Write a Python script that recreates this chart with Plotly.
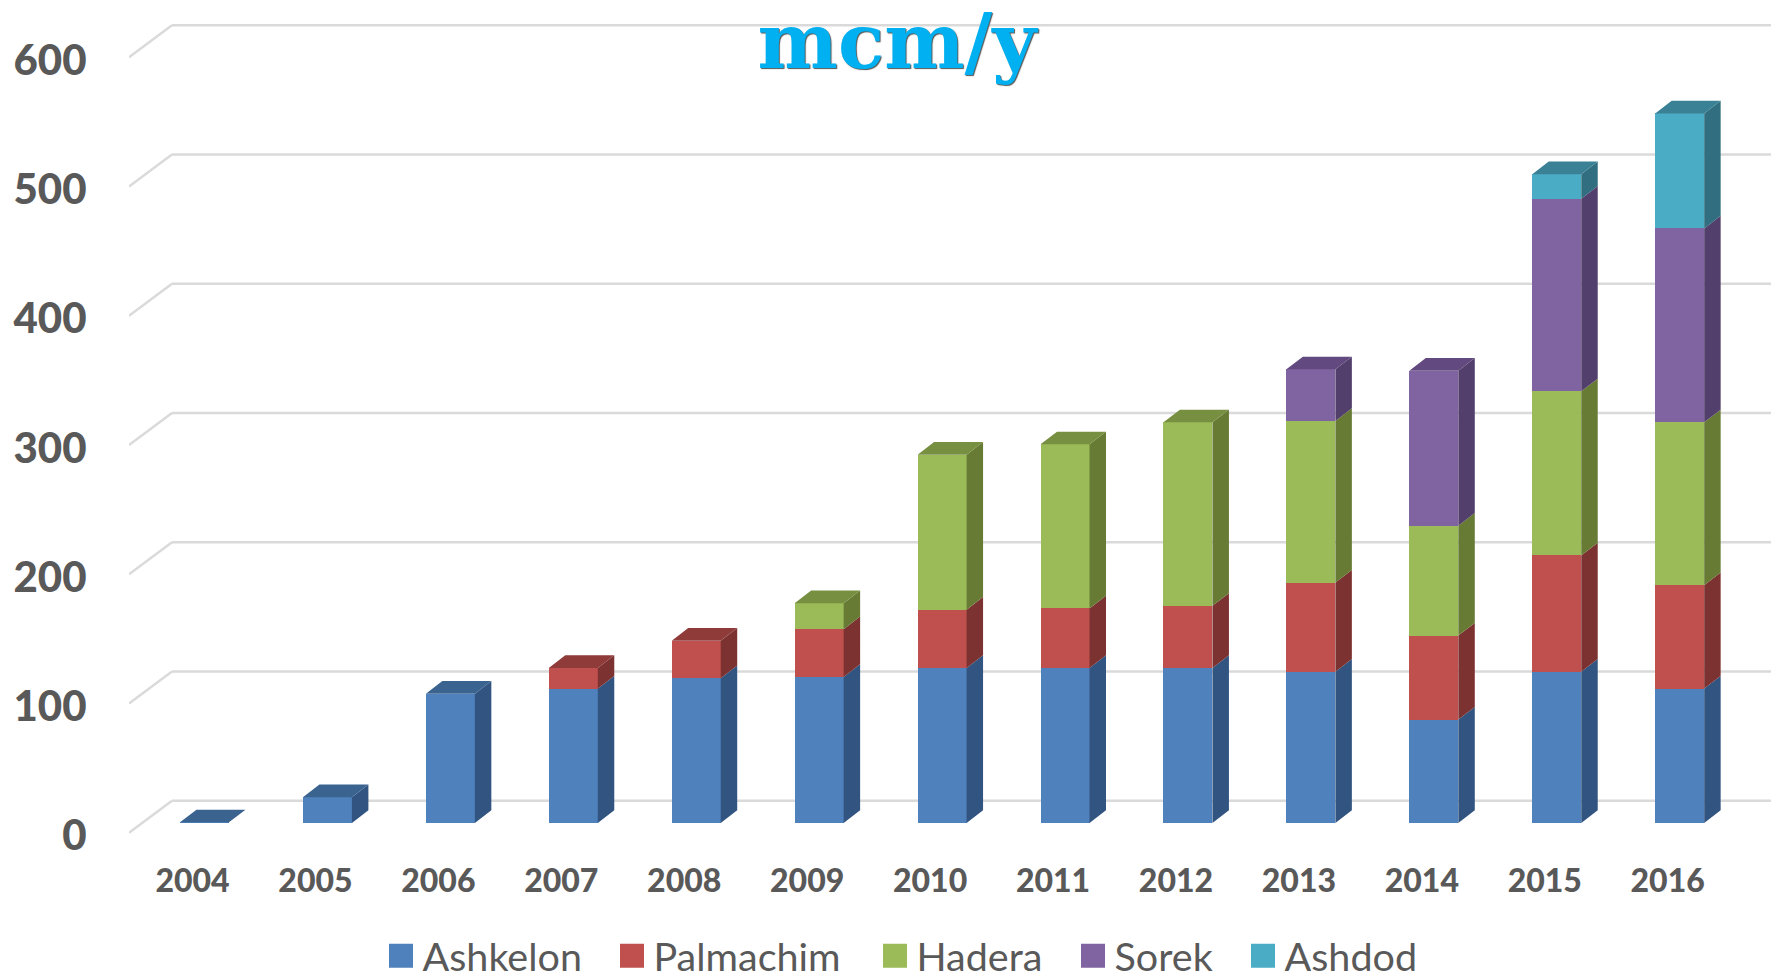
import plotly.graph_objects as go

years = [2004, 2005, 2006, 2007, 2008, 2009, 2010, 2011, 2012, 2013, 2014, 2015, 2016]
ashkelon = [0.5, 20, 100, 104, 112, 113, 120, 120, 120, 117, 80, 117, 104]
palmachim = [0, 0, 0, 16, 29, 37, 45, 46, 48, 69, 65, 90, 80]
hadera = [0, 0, 0, 0, 0, 20, 120, 127, 142, 125, 85, 127, 126]
sorek = [0, 0, 0, 0, 0, 0, 0, 0, 0, 40, 120, 149, 150]
ashdod = [0, 0, 0, 0, 0, 0, 0, 0, 0, 0, 0, 19, 89]
series_names = ["Ashkelon", "Palmachim", "Hadera", "Sorek", "Ashdod"]
series_values = [ashkelon, palmachim, hadera, sorek, ashdod]
front_colors = ["#4F81BD", "#C0504D", "#9BBB59", "#8064A2", "#4BACC6"]
side_colors = ["#325480", "#7C3230", "#677B35", "#533F6B", "#316F80"]
top_colors = ["#3B6390", "#8F3B3A", "#778F40", "#624A80", "#3B8195"]
y_ticks = [0, 100, 200, 300, 400, 500, 600]
legend_swatch_px = [389, 620, 883, 1081, 1251]

# pseudo-3D geometry, in axis units
BAR_SHIFT = 0.0976   # bar centre relative to its year label
BAR_W = 0.3986
DEPTH_X = 0.134
DEPTH_Y = 9.8
WALL_BACK = 17.2     # back wall height offset
WALL_FRONT = -7.6    # front edge height offset
GRID_LEFT_FRONT = 2003.4834
GRID_LEFT_BACK = 2003.833
GRID_RIGHT = 2016.84

fig = go.Figure()

shapes = []
for v in y_ticks:
    for x0, y0, x1, y1 in [
        (GRID_LEFT_FRONT, v + WALL_FRONT, GRID_LEFT_BACK, v + WALL_BACK),
        (GRID_LEFT_BACK, v + WALL_BACK, GRID_RIGHT, v + WALL_BACK),
    ]:
        shapes.append(dict(type="line", xref="x", yref="y", x0=x0, y0=y0, x1=x1, y1=y1,
                           layer="below", line=dict(color="#DADADA", width=2.5)))

xs = [y + BAR_SHIFT for y in years]
bottom = [0.0] * len(years)
top_of_stack = [max(i for i, s in enumerate(series_values) if s[k] > 0) for k in range(len(years))]

for idx, (name, vals) in enumerate(zip(series_names, series_values)):
    fig.add_trace(go.Bar(
        x=xs, y=vals, name=name, width=BAR_W,
        legend="legend" if idx == 0 else f"legend{idx + 1}",
        marker=dict(color=front_colors[idx], line=dict(width=0)),
        hoverinfo="skip",
    ))
    side_x, side_y, top_x, top_y = [], [], [], []
    for k in range(len(years)):
        if vals[k] <= 0:
            continue
        b, t = bottom[k], bottom[k] + vals[k]
        r = xs[k] + BAR_W / 2
        l = xs[k] - BAR_W / 2
        side_x += [r, r + DEPTH_X, r + DEPTH_X, r, r, None]
        side_y += [b, b + DEPTH_Y, t + DEPTH_Y, t, b, None]
        if top_of_stack[k] == idx:
            top_x += [l, l + DEPTH_X, r + DEPTH_X, r, l, None]
            top_y += [t, t + DEPTH_Y, t + DEPTH_Y, t, t, None]
    fig.add_trace(go.Scatter(x=side_x, y=side_y, mode="lines", fill="toself",
                             fillcolor=side_colors[idx], line=dict(width=0),
                             showlegend=False, hoverinfo="skip"))
    if top_x:
        fig.add_trace(go.Scatter(x=top_x, y=top_y, mode="lines", fill="toself",
                                 fillcolor=top_colors[idx], line=dict(width=0),
                                 showlegend=False, hoverinfo="skip"))
    bottom = [b + v for b, v in zip(bottom, vals)]

PX_PER_UNIT = 1.2925
BASE_PX = 823
PLOT_BOTTOM_PX = 840
legends = {}
for idx, px in enumerate(legend_swatch_px):
    legends["legend" if idx == 0 else f"legend{idx + 1}"] = dict(
        orientation="h", xref="container", x=(px - 9.5) / 1775, xanchor="left",
        yref="container", y=1 - 956 / 973, yanchor="middle", itemwidth=33,
        font=dict(family="Lato", size=39.5, color="#595959"),
        bgcolor="rgba(0,0,0,0)",
    )

fig.update_layout(
    width=1775, height=973, autosize=False,
    margin=dict(l=129, r=0, t=0, b=973 - PLOT_BOTTOM_PX, pad=0),
    paper_bgcolor="white", plot_bgcolor="rgba(0,0,0,0)",
    barmode="stack", bargap=0,
    shapes=shapes,
    title=dict(text="mcm/y", x=897 / 1775, xanchor="center", xref="container", yref="container",
               y=1 - 41 / 973, yanchor="middle",
               font=dict(family="DejaVu Serif", size=76, color="#00B0F0", weight="bold",
                         shadow="1px 1px 1px #555555")),
    xaxis=dict(range=[GRID_LEFT_FRONT, 2016.873], tickmode="array", tickvals=years,
               ticktext=[str(y) for y in years], showgrid=False, zeroline=False, showline=False,
               ticks="outside", ticklen=13, tickcolor="rgba(0,0,0,0)",
               tickfont=dict(family="Lato", size=32, color="#595959", weight=900)),
    yaxis=dict(range=[(BASE_PX - PLOT_BOTTOM_PX) / PX_PER_UNIT, BASE_PX / PX_PER_UNIT], tickmode="array",
               tickvals=[v + WALL_FRONT - 2.2 for v in y_ticks], ticktext=[str(v) for v in y_ticks],
               showgrid=False, zeroline=False, showline=False,
               ticks="outside", ticklen=33, tickcolor="rgba(0,0,0,0)",
               tickfont=dict(family="Lato", size=42, color="#595959", weight=900)),
    **legends,
)

post = """
document.body.style.margin = '0';
document.body.style.overflow = 'hidden';
document.querySelectorAll('.legendpoints path').forEach(function (p) {
    p.setAttribute('transform', (p.getAttribute('transform') || '') + ' scale(2)');
});
"""
fig.write_html("out.html", post_script=post, config={"displayModeBar": False})
